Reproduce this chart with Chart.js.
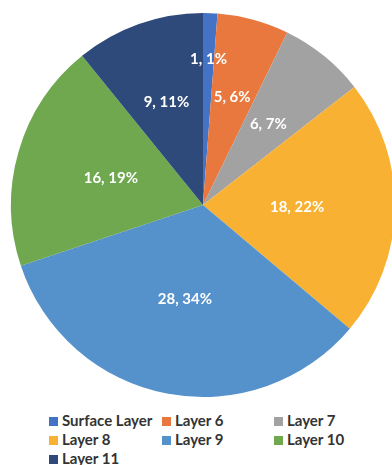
<!DOCTYPE html>
<html>
<head>
<meta charset="utf-8">
<script src="https://cdn.jsdelivr.net/npm/chart.js@4"></script>
<style>
  body { margin: 0; width: 392px; height: 465px; overflow: hidden; background: #fff; font-family: Lato, "Open Sans", sans-serif; position: relative; }
  #wrap { position: absolute; left: 0; top: 0; width: 400px; height: 410px; }
  #legend { position: absolute; left: 49px; top: 411px; width: 340px; font-weight: bold; font-size: 15px; color: #333; }
  .item { position: absolute; white-space: nowrap; line-height: 19px; }
  .item span { display: inline-block; width: 9px; height: 9px; margin-right: 4px; vertical-align: 0px; }
</style>
</head>
<body>
<div id="wrap"><canvas id="chart" width="400" height="410"></canvas></div>
<div id="legend"></div>
<script>
// ===== DATA =====
const layers = ['Surface Layer', 'Layer 6', 'Layer 7', 'Layer 8', 'Layer 9', 'Layer 10', 'Layer 11'];
const counts = [1, 5, 6, 18, 28, 16, 9];
const colors = ['#4472C4', '#E8783E', '#A2A2A2', '#F8B133', '#5592CB', '#6FA84F', '#2E4A7A'];
// how far out (fraction of radius) each label sits
const labelRadius = [0.76, 0.58, 0.54, 0.49, 0.5, 0.5, 0.57];

const total = counts.reduce((a, b) => a + b, 0);

// ===== LABELS INSIDE SLICES =====
const sliceLabels = {
  id: 'sliceLabels',
  afterDatasetsDraw(chart) {
    const c = chart.ctx;
    const meta = chart.getDatasetMeta(0);
    c.save();
    c.font = 'bold 15px Lato, "Open Sans", sans-serif';
    c.fillStyle = '#fff';
    c.textAlign = 'center';
    c.textBaseline = 'middle';
    meta.data.forEach((arc, i) => {
      const p = arc.getProps(['x', 'y', 'startAngle', 'endAngle', 'outerRadius'], true);
      const mid = (p.startAngle + p.endAngle) / 2;
      const r = p.outerRadius * labelRadius[i];
      const pct = Math.round(counts[i] / total * 100);
      c.fillText(counts[i] + ', ' + pct + '%', p.x + Math.cos(mid) * r, p.y + Math.sin(mid) * r);
    });
    c.restore();
  }
};

new Chart(document.getElementById('chart'), {
  type: 'pie',
  data: {
    labels: layers,
    datasets: [{
      data: counts,
      backgroundColor: colors,
      borderWidth: 0
    }]
  },
  options: {
    responsive: false,
    animation: false,
    devicePixelRatio: 1,
    layout: { padding: { left: 11, right: 5, top: 13, bottom: 13 } },
    plugins: {
      legend: { display: false },
      tooltip: { enabled: false }
    }
  },
  plugins: [sliceLabels]
});

// ===== LEGEND (3 columns) =====
const legend = document.getElementById('legend');
const colX = [0, 113, 225];
layers.forEach((name, i) => {
  const d = document.createElement('div');
  d.className = 'item';
  d.style.left = colX[i % 3] + 'px';
  d.style.top = Math.floor(i / 3) * 19 + 'px';
  d.innerHTML = '<span style="background:' + colors[i] + '"></span>' + name;
  legend.appendChild(d);
});
</script>
</body>
</html>
